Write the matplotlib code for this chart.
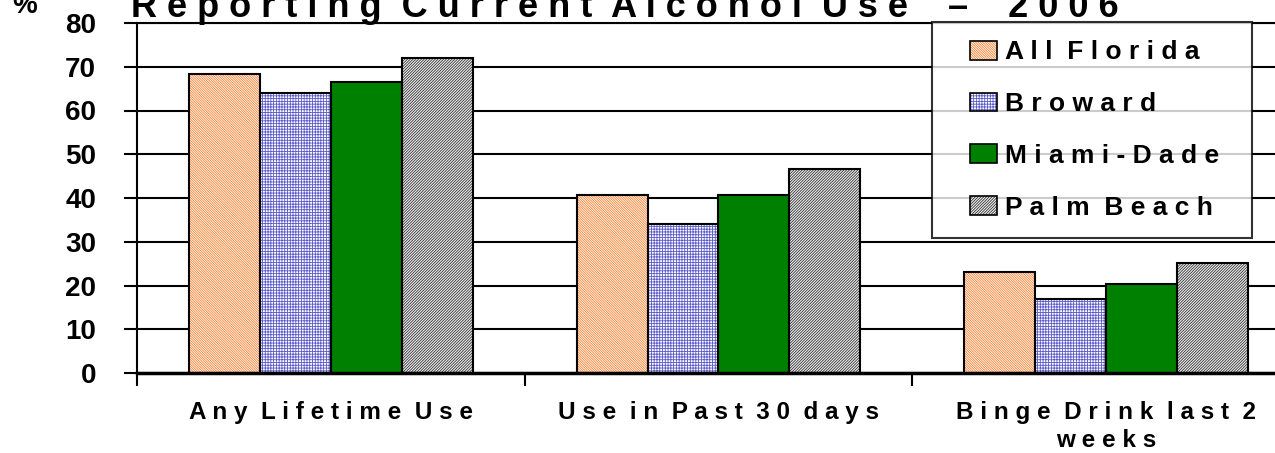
import matplotlib.pyplot as plt
import matplotlib.patches as mpatches
from matplotlib.legend_handler import HandlerBase
import numpy as np

plt.rcParams['font.family'] = ['Liberation Sans', 'DejaVu Sans']
plt.rcParams['font.weight'] = 'bold'
plt.rcParams['hatch.linewidth'] = 0.6

categories = ['Any Lifetime Use', 'Use in Past 30 days', 'Binge Drink last 2\nweeks']
series = ['All Florida', 'Broward', 'Miami-Dade', 'Palm Beach']
values = {
    'All Florida': [68.3, 40.8, 23.1],
    'Broward': [63.9, 34.1, 17.0],
    'Miami-Dade': [66.6, 40.8, 20.3],
    'Palm Beach': [71.9, 46.6, 25.1],
}
yticks = [0, 10, 20, 30, 40, 50, 60, 70, 80]

# fill colour, hatch colour, hatch pattern
styles = {
    'All Florida': ('white', '#ff8030', '\\' * 14),
    'Broward': ('white', '#5a5ac8', '+' * 6),
    'Miami-Dade': ('#008000', '#008000', ''),
    'Palm Beach': ('#f0f0f0', '#333333', '/' * 12),
}


def spaced(s):
    lines = []
    for line in s.split('\n'):
        lines.append('  '.join(' '.join(w) for w in line.split(' ')))
    return '\n'.join(lines)


class SwatchHandler(HandlerBase):
    # hatched swatch with a black outline, pushed to the right of the handle box
    def create_artists(self, legend, orig_handle, xdescent, ydescent,
                       width, height, fontsize, trans):
        fc, hc, hatch = orig_handle
        w, h = fontsize * 1.0, fontsize * 0.7
        x0 = width - w - xdescent
        y0 = -ydescent + (height - h) / 2
        r1 = mpatches.Rectangle((x0, y0), w, h, facecolor=fc, edgecolor=hc,
                                hatch=hatch, linewidth=0, transform=trans)
        r2 = mpatches.Rectangle((x0, y0), w, h, fill=False, edgecolor='black',
                                linewidth=1.2, transform=trans)
        return [r1, r2]


fig = plt.figure(figsize=(12.75, 4.53), dpi=100)
ax = fig.add_axes([137 / 1275, 80 / 453, 1163 / 1275, 350 / 453])

x = np.arange(len(categories))
width = 0.183
for i, name in enumerate(series):
    fc, hc, hatch = styles[name]
    pos = x + (i - 1.5) * width
    ax.bar(pos, values[name], width, color=fc, edgecolor=hc, hatch=hatch,
           linewidth=0, zorder=2)
    ax.bar(pos, values[name], width, fill=False, edgecolor='black',
           linewidth=1.5, zorder=3)

ax.set_xlim(-0.5, 2.5)
ax.set_ylim(0, 80)
ax.set_yticks(yticks)
ax.set_yticklabels([str(v) for v in yticks], fontsize=20, fontweight='bold')
ax.set_xticks(x)
ax.set_xticklabels([spaced(c) for c in categories], fontsize=17.5,
                   fontweight='bold', linespacing=1.3)
ax.set_xticks(np.arange(-0.5, 3, 1.0), minor=True)
ax.tick_params(axis='x', which='major', length=0, pad=20)
ax.tick_params(axis='x', which='minor', direction='out', length=9, width=1.5)
ax.tick_params(axis='y', direction='out', length=9.5, width=1.5, pad=20)

ax.yaxis.grid(True, color='black', linewidth=1.5, zorder=0)
ax.set_axisbelow(True)
ax.spines['right'].set_visible(False)
ax.spines['top'].set_linewidth(1.5)
ax.spines['left'].set_linewidth(1.5)
ax.spines['bottom'].set_linewidth(2.5)

leg = ax.legend([styles[s] for s in series], [spaced(s) + '  ' for s in series],
                handler_map={tuple: SwatchHandler()},
                loc='upper right', bbox_to_anchor=(1252 / 1275, 1 - 22 / 453),
                bbox_transform=fig.transFigure, borderaxespad=0,
                prop={'size': 19, 'weight': 'bold'}, frameon=True,
                fancybox=False, handlelength=1.75, handleheight=0.75,
                handletextpad=0.3, labelspacing=1.05, borderpad=0.7)
leg.get_frame().set_edgecolor('black')
leg.get_frame().set_linewidth(1.5)
leg.set_zorder(5)

fig.text(0.49, 1 - 17 / 453, spaced('Reporting Current Alcohol Use  \u2013  2006'),
         ha='center', va='baseline', fontsize=26, fontweight='bold')
fig.text(12 / 1275, 1 - 13 / 453, '%', ha='left', va='baseline',
         fontsize=20, fontweight='bold')

fig.savefig('out.png', dpi=100)
